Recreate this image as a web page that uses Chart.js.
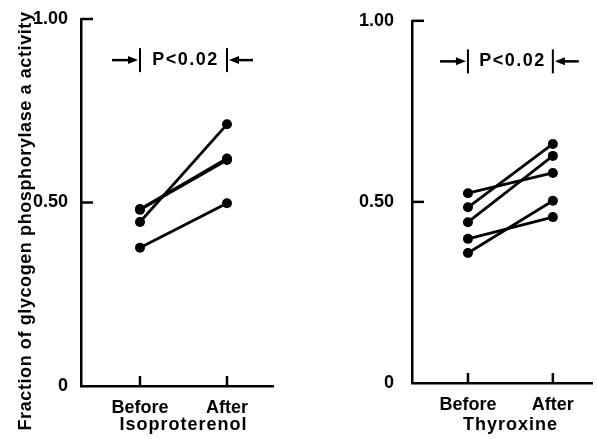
<!DOCTYPE html>
<html>
<head>
<meta charset="utf-8">
<script src="https://cdn.jsdelivr.net/npm/chart.js@4/dist/chart.umd.min.js"></script>
<style>
  html, body { margin: 0; padding: 0; background: #fff; }
  #wrap { position: relative; width: 597px; height: 439px; overflow: hidden; }
  .box { position: absolute; top: 0; height: 439px; }
  #b1 { left: 0; width: 300px; }
  #b2 { left: 300px; width: 297px; }
</style>
</head>
<body>
<div id="wrap">
  <div class="box" id="b1"><canvas id="c1"></canvas></div>
  <div class="box" id="b2"><canvas id="c2"></canvas></div>
</div>
<script>
// ---- data ----
const categories = ["Before", "After"];
const isoBefore = [0.447, 0.482, 0.480, 0.377];
const isoAfter  = [0.713, 0.620, 0.616, 0.498];
const thyBefore = [0.524, 0.485, 0.444, 0.398, 0.359];
const thyAfter  = [0.580, 0.660, 0.627, 0.458, 0.503];
const yTickValues = [0, 0.5, 1.0];
const yTickLabels = ["0", "0.50", "1.00"];
const yTitle = "Fraction of glycogen phosphorylase a activity";
const treatments = ["Isoproterenol", "Thyroxine"];
const pLabel = "P<0.02";
const pLevel = 0.888;

const FONT = "'Liberation Sans', Arial, sans-serif";
const INK = "#000";

function makeDatasets(before, after) {
  return before.map((b, i) => ({
    label: "Subject " + (i + 1),
    data: [{x: 0, y: b}, {x: 1, y: after[i]}],
    borderColor: INK,
    backgroundColor: INK,
    borderWidth: 2.8,
    pointRadius: 5,
    pointHoverRadius: 5,
    pointBorderWidth: 0,
    showLine: true,
    fill: false
  }));
}

function arrow(ctx, x0, x1, y) {
  const dir = Math.sign(x1 - x0);
  ctx.beginPath();
  ctx.moveTo(x0, y);
  ctx.lineTo(x1 - dir * 6, y);
  ctx.stroke();
  ctx.beginPath();
  ctx.moveTo(x1, y);
  ctx.lineTo(x1 - dir * 10, y - 4);
  ctx.lineTo(x1 - dir * 10, y + 4);
  ctx.closePath();
  ctx.fill();
}

function decoPlugin(opts) {
  return {
    id: "deco",
    afterDraw(chart) {
      const ctx = chart.ctx;
      const xs = chart.scales.x, ys = chart.scales.y;
      const area = chart.chartArea;
      const xb = xs.getPixelForValue(0), xa = xs.getPixelForValue(1);
      ctx.save();
      ctx.strokeStyle = INK;
      ctx.fillStyle = INK;
      ctx.lineWidth = 2.5;
      // inward y ticks
      yTickValues.forEach(v => {
        if (v === 0) return;
        const y = ys.getPixelForValue(v);
        ctx.beginPath(); ctx.moveTo(area.left, y); ctx.lineTo(area.left + 12, y); ctx.stroke();
      });
      // inward x ticks
      [xb, xa].forEach(x => {
        ctx.beginPath(); ctx.moveTo(x, area.bottom); ctx.lineTo(x, area.bottom - 10); ctx.stroke();
      });
      // significance bracket
      const py = ys.getPixelForValue(pLevel);
      ctx.lineWidth = 2;
      ctx.beginPath(); ctx.moveTo(xb, py - 12); ctx.lineTo(xb, py + 12); ctx.stroke();
      ctx.beginPath(); ctx.moveTo(xa, py - 12); ctx.lineTo(xa, py + 12); ctx.stroke();
      ctx.lineWidth = 2.5;
      arrow(ctx, xb - 28, xb - 2, py);
      arrow(ctx, xa + 26, xa + 2, py);
      ctx.font = "bold 18px " + FONT;
      ctx.textAlign = "center";
      ctx.textBaseline = "middle";
      ctx.letterSpacing = "1.5px";
      ctx.fillText(pLabel, (xb + xa) / 2 + 2, py);
      // treatment label
      ctx.letterSpacing = "1px";
      ctx.textBaseline = "alphabetic";
      ctx.fillText(opts.treatment, (xb + xa) / 2, 430);
      // y title
      if (opts.yTitle) {
        ctx.letterSpacing = "0.6px";
        ctx.translate(31, 221);
        ctx.rotate(-Math.PI / 2);
        ctx.textAlign = "center";
        ctx.fillText(opts.yTitle, 0, 0);
      }
      ctx.restore();
    }
  };
}

function makeChart(id, before, after, cfg) {
  return new Chart(document.getElementById(id), {
    type: "scatter",
    data: { datasets: makeDatasets(before, after) },
    options: {
      responsive: true,
      maintainAspectRatio: false,
      animation: false,
      events: [],
      layout: { padding: { top: cfg.top, right: cfg.right, left: 0, bottom: 0 } },
      plugins: { legend: { display: false }, tooltip: { enabled: false } },
      scales: {
        x: {
          type: "linear",
          min: cfg.xmin, max: cfg.xmax,
          grid: { display: false },
          border: { display: true, color: INK, width: 2.5 },
          afterBuildTicks: s => { s.ticks = categories.map((c, i) => ({ value: i })); },
          afterFit: s => { s.height = cfg.xh; },
          ticks: {
            padding: 3,
            color: INK,
            font: { family: FONT, size: 18, weight: "bold" },
            maxRotation: 0,
            autoSkip: false,
            callback: v => categories[v]
          }
        },
        y: {
          min: 0, max: 1,
          grid: { display: false },
          border: { display: true, color: INK, width: 2.5 },
          afterBuildTicks: s => { s.ticks = yTickValues.map(v => ({ value: v })); },
          afterFit: s => { s.width = cfg.yw; },
          ticks: {
            padding: cfg.tickPad,
            color: INK,
            font: { family: FONT, size: 18, weight: "bold" },
            callback: v => yTickLabels[yTickValues.indexOf(v)]
          }
        }
      }
    },
    plugins: [decoPlugin(cfg)]
  });
}

makeChart("c1", isoBefore, isoAfter, {
  top: 19, right: 27, xh: 53, yw: 81, tickPad: 5,
  xmin: -0.678, xmax: 1.529, treatment: treatments[0], yTitle: yTitle
});
makeChart("c2", thyBefore, thyAfter, {
  top: 15, right: 0, xh: 56, yw: 112, tickPad: 10,
  xmin: -0.659, xmax: 1.461, treatment: treatments[1], yTitle: null
});
</script>
</body>
</html>
